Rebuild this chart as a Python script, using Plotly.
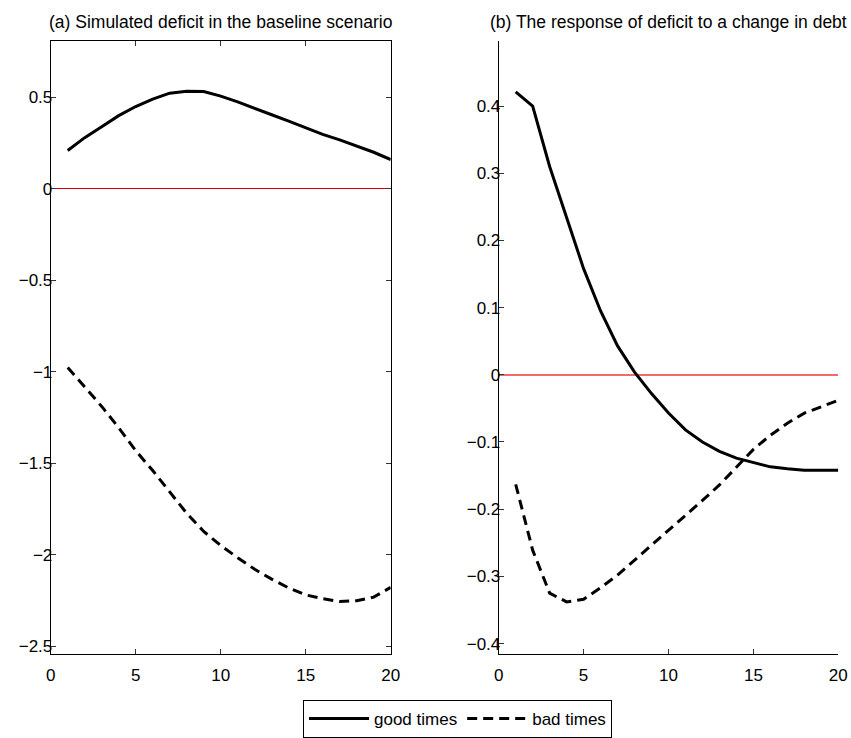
import plotly.graph_objects as go

periods = list(range(1, 21))

# Panel (a): simulated deficit in the baseline scenario
deficit_good = [0.21, 0.28, 0.34, 0.40, 0.45, 0.49, 0.523, 0.534, 0.532, 0.507,
                0.475, 0.442, 0.405, 0.37, 0.334, 0.298, 0.268, 0.235, 0.20, 0.16]
deficit_bad = [-0.976, -1.084, -1.189, -1.305, -1.431, -1.539, -1.656, -1.773, -1.872, -1.949,
               -2.016, -2.079, -2.133, -2.181, -2.219, -2.240, -2.255, -2.251, -2.231, -2.178]

# Panel (b): response of deficit to a change in debt
response_good = [0.421, 0.400, 0.310, 0.234, 0.158, 0.095, 0.043, 0.004, -0.028, -0.057,
                 -0.082, -0.100, -0.114, -0.124, -0.131, -0.137, -0.140, -0.142, -0.142, -0.142]
response_bad = [-0.163, -0.261, -0.325, -0.338, -0.334, -0.317, -0.298, -0.276, -0.254, -0.231,
                -0.209, -0.187, -0.164, -0.138, -0.111, -0.090, -0.072, -0.057, -0.048, -0.038]

titles = ["(a) Simulated deficit in the baseline scenario",
          "(b) The response of deficit to a change in debt"]
series_names = ["good times", "bad times"]
x_ticks = [0, 5, 10, 15, 20]

FONT = "Liberation Sans, Arial, Helvetica, sans-serif"
W, H = 851, 738

fig = go.Figure()

dash_style = "10px,6px"
fig.add_trace(go.Scatter(x=periods, y=deficit_good, mode="lines", name=series_names[0],
                         line=dict(color="black", width=3), xaxis="x", yaxis="y"))
fig.add_trace(go.Scatter(x=periods, y=deficit_bad, mode="lines", name=series_names[1],
                         line=dict(color="black", width=3, dash=dash_style), xaxis="x", yaxis="y"))
fig.add_trace(go.Scatter(x=periods, y=response_good, mode="lines", name=series_names[0],
                         showlegend=False,
                         line=dict(color="black", width=3), xaxis="x2", yaxis="y2"))
fig.add_trace(go.Scatter(x=periods, y=response_bad, mode="lines", name=series_names[1],
                         showlegend=False,
                         line=dict(color="black", width=3, dash=dash_style), xaxis="x2", yaxis="y2"))

x1 = [50.7 / W, 390.7 / W]
x2 = [498.7 / W, 838.3 / W]
ydom = [1 - 661.7 / H, 1 - 41.7 / H]

tickfont = dict(family=FONT, size=17, color="black")
common = dict(showgrid=False, ticks="inside", ticklen=5, tickwidth=1, tickcolor="#333",
              showline=True, linecolor="black", linewidth=1, tickfont=tickfont,
              automargin=False)
xcommon = dict(ticklabelstandoff=6, **common)
ycommon = dict(ticklabelstandoff=-6, **common)

fig.update_layout(
    width=W, height=H,
    margin=dict(l=0, r=0, t=0, b=0),
    paper_bgcolor="white", plot_bgcolor="white",
    font=dict(family=FONT, size=17, color="black"),
    xaxis=dict(domain=x1, range=[0, 20], tickvals=x_ticks, mirror="ticks",
               zeroline=False, anchor="y", **xcommon),
    yaxis=dict(domain=ydom, range=[-2.54, 0.807], dtick=0.5, tick0=0, mirror="ticks",
               zeroline=True, zerolinecolor="#d40000", zerolinewidth=1, anchor="x", **ycommon),
    xaxis2=dict(domain=x2, range=[0, 20], tickvals=x_ticks, mirror=False,
                zeroline=False, anchor="y2", **xcommon),
    yaxis2=dict(domain=ydom, range=[-0.415, 0.4965], dtick=0.1, tick0=0, mirror=False,
                zeroline=True, zerolinecolor="#f06a6a", zerolinewidth=1.5, anchor="x2", **ycommon),
    showlegend=True,
    legend=dict(orientation="h", x=303 / W, xanchor="left", y=1 - 709 / H, yanchor="top",
                bordercolor="black", borderwidth=1, bgcolor="white",
                font=dict(family=FONT, size=17, color="black"),
                itemwidth=60, tracegroupgap=0),
)

for i, t in enumerate(titles):
    dom = x1 if i == 0 else x2
    fig.add_annotation(text=t, xref="paper", yref="paper", x=(dom[0] + dom[1]) / 2,
                       y=1 - 22 / H, xanchor="center", yanchor="middle", showarrow=False,
                       font=dict(family=FONT, size=17.5, color="black"))

fig.write_html("out.html")
